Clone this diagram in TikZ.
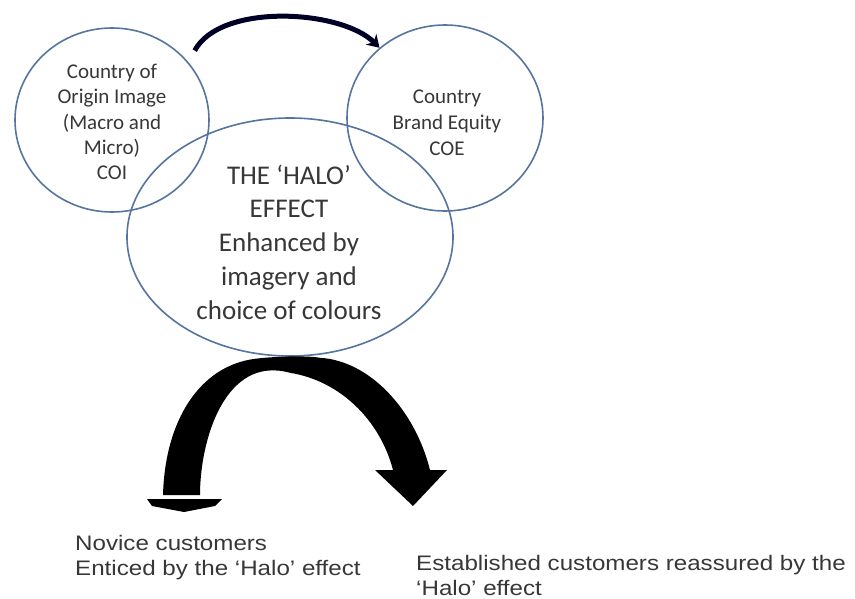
\documentclass[tikz,border=0pt]{standalone}
\usepackage{fontspec}
\usepackage{tikz}
\usetikzlibrary{calc,shapes.geometric,arrows.meta}

\newfontfamily\ringfont{Carlito}
\newfontfamily\notefont[FakeStretch=1.15]{Liberation Sans}
\definecolor{ringblue}{RGB}{86,116,160}
\definecolor{inkgrey}{RGB}{55,55,55}

\begin{document}
\begin{tikzpicture}[x=1pt,y=1pt,
    ring/.style={draw=ringblue, line width=1.6pt, ellipse, inner sep=0pt},
    ringtext/.style={align=center, text=inkgrey, inner sep=0pt},
    note/.style={inner sep=0pt, anchor=north west, align=left, text=inkgrey,
                 font=\notefont\fontsize{21}{25}\selectfont}]
  \useasboundingbox (0,0) rectangle (855,-599);

  %% The three rings
  \node[ring, minimum width=194pt, minimum height=184pt] (COI) at (112,-120) {};
  \node[ring, minimum width=196pt, minimum height=186pt] (COE) at (445,-118) {};
  \node[ring, minimum width=326pt, minimum height=238pt] (HALO) at (290,-237) {};

  %% Texts of the rings
  \node[ringtext, font=\ringfont\fontsize{21}{25.3}\selectfont] (COItext)
    at ($(COI.center)+(0,-2)$) {Country of\\Origin Image\\(Macro and\\Micro)\\COI};
  \node[ringtext, font=\ringfont\fontsize{21}{25.8}\selectfont] (COEtext)
    at ($(COE.center)+(2,-5)$) {Country\\Brand Equity\\COE};
  \node[ringtext, font=\ringfont\fontsize{27}{33.7}\selectfont] (HALOtext)
    at ($(HALO.center)+(-1,-5)$) {THE ‘HALO’\\EFFECT\\Enhanced by\\imagery and\\choice of colours};

  %% Arrow from COI to COE
  \draw[line width=5pt, color=black!85!blue, -{Stealth[length=12pt,width=15pt]}]
    ($(COI.center)+(40:108)$) to[out=62,in=135,looseness=0.75] (COE.133);

  %% Customer groups
  \node[note] (NOVICE) at (75,-535) {Novice customers\\Enticed by the ‘Halo’ effect};
  \node[note] (ESTAB) at (416,-555) {Established customers reassured by the\\‘Halo’ effect};

  %% Split arrow down from the halo
  \coordinate (FORK) at (HALO.south);
  \fill ($(FORK)+(-35,-2)$) .. controls +(-55,-7) and +(2,75) .. (163,-495)
    -- (200,-495) .. controls +(0,55) and +(-65,18) .. ($(FORK)+(0,-16)$)
    .. controls +(50,-8) and +(-13,50) .. (393,-470)
    -- (375,-470) -- (413,-506) -- (447,-470) -- (430,-470)
    .. controls +(-15,60) and +(50,-3) .. ($(FORK)+(30,-1)$)
    .. controls +(-10,2) and +(25,3) .. ($(FORK)+(-35,-2)$) -- cycle;
  \fill (147,-499) -- (222,-499) -- (215,-506) -- (184,-512) -- (152,-506) -- cycle;
\end{tikzpicture}
\end{document}
